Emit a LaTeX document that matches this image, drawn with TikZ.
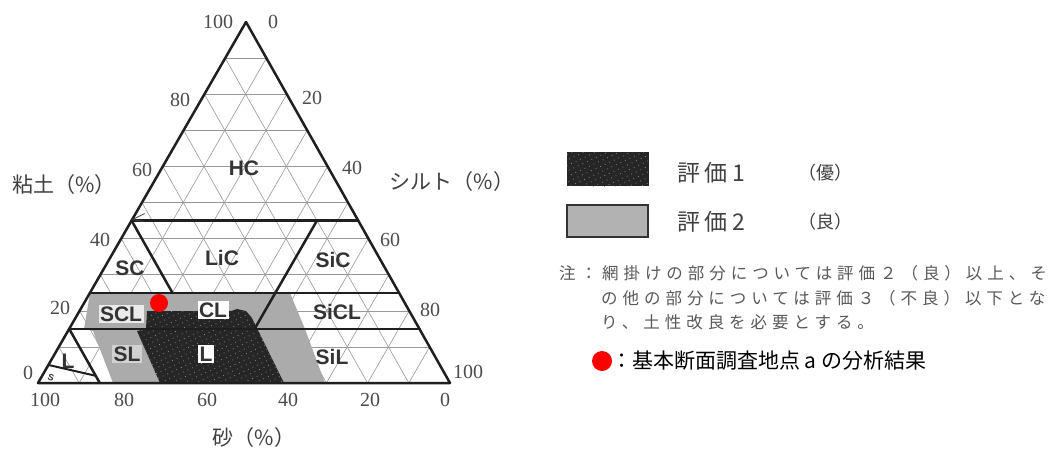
\documentclass[tikz,border=0pt]{standalone}
\usepackage{fontspec}
\usetikzlibrary{patterns.meta}
\newfontfamily\jp{Noto Sans CJK JP}
\newfontfamily\jpsp{Noto Sans CJK JP}[LetterSpace=20]
\newfontfamily\jpnote{Noto Sans CJK JP}[LetterSpace=30]
\newfontfamily\labf{Liberation Sans}
\newfontfamily\numf{Liberation Serif}
\begin{document}
\begin{tikzpicture}[x=1pt,y=-1pt,
  gridln/.style={black!40, line width=0.6pt},
  bound/.style={black!88, line width=2.5pt, line join=round, line cap=round},
  num/.style={font=\numf\fontsize{20}{20}\selectfont, text=black!70, inner sep=0pt},
  axl/.style={font=\jp\fontsize{21}{21}\selectfont, text=black!75, inner sep=0pt},
  reg/.style={font=\labf\bfseries\fontsize{21}{21}\selectfont, text=black!80, inner sep=1.5pt},
  darkfill/.style={fill=black!85},
  darkdots/.style={pattern={Dots[distance=5pt,radius=0.55pt,angle=25]}, pattern color=black!45},
  lightfill/.style={fill=black!33},
  legt/.style={font=\jpsp\fontsize{23}{23}\selectfont, text=black!75, inner sep=0pt, anchor=west},
  legp/.style={font=\jp\fontsize{18}{18}\selectfont, text=black!75, inner sep=0pt, anchor=west},
  notet/.style={font=\jpnote\fontsize{16.5}{16.5}\selectfont, text=black!65, inner sep=0pt, anchor=west},
  reddot/.style={circle, fill=red, inner sep=0pt},
]
\useasboundingbox[fill=white] (0,0) rectangle (1048,452);
\coordinate (L) at (38,383);
\coordinate (R) at (450,383);
\coordinate (A) at (246,22);

% grid
\foreach \i in {10,20,...,90}{
  \pgfmathsetmacro\a{\i/100}
  \pgfmathsetmacro\b{1-\i/100}
  \draw[gridln] (barycentric cs:L=\b,A=\a) -- (barycentric cs:R=\b,A=\a);
  \draw[gridln] (barycentric cs:L=\a,R=\b) -- (barycentric cs:L=\a,A=\b);
  \draw[gridln] (barycentric cs:R=\a,L=\b) -- (barycentric cs:R=\a,A=\b);
}

% evaluation 2 (grey)
\fill[lightfill] (90,293) -- (290,293) -- (305,329) -- (325,383) -- (113,383)
  -- (93,331) -- (84,329) -- cycle;
% evaluation 1 (dark)
\fill[darkfill] (147,311) -- (231,311) -- (237,309) -- (246,311) -- (252,318)
  -- (284,383) -- (160,383) -- (137,331) -- (146,329) -- cycle;
\fill[darkdots] (147,311) -- (231,311) -- (237,309) -- (246,311) -- (252,318)
  -- (284,383) -- (160,383) -- (137,331) -- (146,329) -- cycle;

% class boundaries
\coordinate (c45l) at (barycentric cs:L=.55,A=.45);
\coordinate (c45r) at (barycentric cs:R=.55,A=.45);
\coordinate (c25l) at (barycentric cs:L=.75,A=.25);
\coordinate (c25r) at (barycentric cs:R=.75,A=.25);
\coordinate (c15l) at (barycentric cs:L=.85,A=.15);
\coordinate (c15r) at (barycentric cs:R=.85,A=.15);
\coordinate (sc) at (barycentric cs:L=.55,R=.20,A=.25);
\coordinate (si45t) at (barycentric cs:L=.10,R=.45,A=.45);
\coordinate (si45b) at (barycentric cs:L=.40,R=.45,A=.15);
\coordinate (ls) at (barycentric cs:L=.85,R=.15);
\coordinate (s5) at (barycentric cs:L=.95,A=.05);
\coordinate (s2) at (barycentric cs:L=.85,R=.13,A=.02);

\draw[bound] (L) -- (R) -- (A) -- cycle;
\draw[bound] (c45l) -- (c45r);
\draw[bound] (c25l) -- (c25r);
\draw[bound] (c15l) -- (c15r);
\draw[bound] (c45l) -- (sc);
\draw[bound] (si45t) -- (si45b);
\draw[bound] (c15l) -- (ls);
\draw[bound, line width=2pt] (s5) -- (s2);
\draw[black!75, line width=0.8pt] ([shift={(13,-7)}]c45l) -- ([shift={(1,-1)}]c45l) -- ([shift={(12,1)}]c45l);

% region labels
\node[reg] (hc) at (244,168) {HC};
\node[reg] (lic) at (222,258) {LiC};
\node[reg] (sc-l) at (130,268) {SC};
\node[reg] (sic) at (333,260) {SiC};
\node[reg, fill=black!8] (scl) at (121,314) {SCL};
\node[reg, fill=white] (cl) at (213,310) {CL};
\node[reg, fill=black!18] (sl) at (127,354) {SL};
\node[reg, fill=white] (lo) at (206,354) {L};
\node[reg] (sicl) at (337,312) {SiCL};
\node[reg] (sil) at (332,357) {SiL};
\node[reg] (ls-l) at (68,361) {L};
\node[font=\labf\bfseries\fontsize{9}{9}\selectfont, rotate=-20, text=black!80, inner sep=0pt] (s-l) at (51,378) {S};

% sample point
\node[reddot, minimum size=18pt] (pt) at (159,303) {};

% axis numbers
\node[num] (l100) at (218,22) {100};
\node[num] (l80) at (180,100) {80};
\node[num] (l60) at (142,170) {60};
\node[num] (l40) at (100,240) {40};
\node[num] (l20) at (60,308) {20};
\node[num] (l0) at (28,373) {0};
\node[num] (r0) at (273,22) {0};
\node[num] (r20) at (312,98) {20};
\node[num] (r40) at (352,168) {40};
\node[num] (r60) at (390,240) {60};
\node[num] (r80) at (430,310) {80};
\node[num] (r100) at (468,372) {100};
\node[num] (b100) at (45,400) {100};
\node[num] (b80) at (124,400) {80};
\node[num] (b60) at (207,400) {60};
\node[num] (b40) at (288,400) {40};
\node[num] (b20) at (370,400) {20};
\node[num] (b0) at (445,400) {0};

% axis titles
\node[axl] (clay) at (64,185) {粘土（\%）};
\node[axl] (silt) at (452,182) {シルト（\%）};
\node[axl] (sand) at (254,438) {砂（\%）};

% legend
\fill[darkfill] (567,152) rectangle (649,186);
\fill[darkdots] (567,152) rectangle (649,186);
\draw[black!80, line width=1.5pt, fill=black!30] (567,205) rectangle (648,237);
\node[legt] (e1) at (677,173) {評価1};
\node[legp] (e1p) at (798,173) {（優）};
\node[legt] (e2) at (677,222) {評価2};
\node[legp] (e2p) at (798,222) {（良）};

\node[notet] (n1) at (559,273) {注：網掛けの部分については評価２（良）以上、そ};
\node[notet] (n2) at (601,298) {の他の部分については評価３（不良）以下とな};
\node[notet] (n3) at (601,322) {り、土性改良を必要とする。};

\node[reddot, minimum size=20pt] (ldot) at (602,361) {};
\node[font=\jp\fontsize{21}{21}\selectfont, inner sep=0pt, anchor=west] (ltxt) at (611,361) {：基本断面調査地点 a の分析結果};
\end{tikzpicture}
\end{document}
